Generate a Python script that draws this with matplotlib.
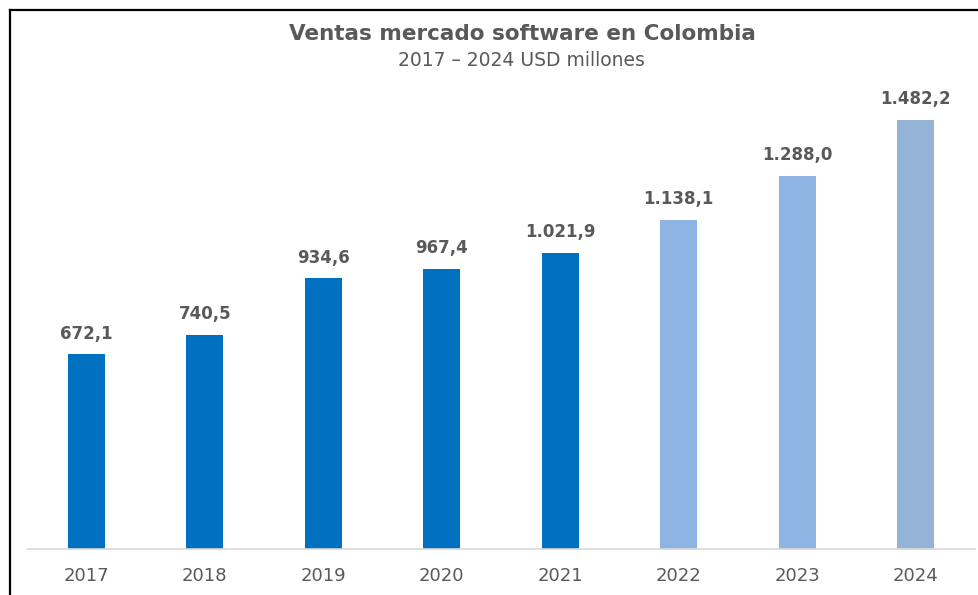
import matplotlib
matplotlib.use("Agg")
import matplotlib.pyplot as plt
from matplotlib.lines import Line2D

years = ["2017", "2018", "2019", "2020", "2021", "2022", "2023", "2024"]
values = [672.1, 740.5, 934.6, 967.4, 1021.9, 1138.1, 1288.0, 1482.2]
colors = ["#0070C0"] * 5 + ["#8EB4E3", "#8EB4E3", "#95B3D7"]

def fmt(v):
    s = f"{v:,.1f}"
    return s.replace(",", "X").replace(".", ",").replace("X", ".")

W, H = 979, 595
fig = plt.figure(figsize=(W / 100, H / 100), dpi=100)
fig.patch.set_facecolor("white")

ax = fig.add_axes([27 / W, 1 - 549 / H, 948 / W, 449 / H])
x = list(range(len(years)))
ax.bar(x, values, width=0.31, color=colors, zorder=2)
ax.set_xlim(-0.5, len(years) - 0.5)
ax.set_ylim(0, 449 / (429 / 1482.2))

for xi, v in zip(x, values):
    ax.annotate(fmt(v), (xi, v), xytext=(0, 8.5), textcoords="offset points",
                ha="center", va="bottom", fontsize=12, fontweight="bold",
                color="#595959", family="DejaVu Sans")

for s in ["top", "right", "left"]:
    ax.spines[s].set_visible(False)
ax.spines["bottom"].set_color("#D9D9D9")
ax.spines["bottom"].set_linewidth(1.2)
ax.set_yticks([])
ax.set_xticks(x)
ax.set_xticklabels(years, fontsize=13, color="#595959", family="DejaVu Sans")
ax.tick_params(axis="x", length=0, pad=13)

fig.text(522 / W, 1 - 34 / H, "Ventas mercado software en Colombia",
         ha="center", va="center", fontsize=15.5, fontweight="bold",
         color="#595959", family="DejaVu Sans")
fig.text(521 / W, 1 - 61 / H, "2017 – 2024 USD millones",
         ha="center", va="center", fontsize=13.5, color="#595959", family="DejaVu Sans")

# frame lines (top and left)
fig.add_artist(Line2D([9.5 / W, 1], [1 - 9.5 / H, 1 - 9.5 / H], color="black", lw=1.6,
                      transform=fig.transFigure))
fig.add_artist(Line2D([9.5 / W, 9.5 / W], [0, 1 - 9.5 / H], color="black", lw=1.6,
                      transform=fig.transFigure))

fig.savefig("out.png", dpi=100)
